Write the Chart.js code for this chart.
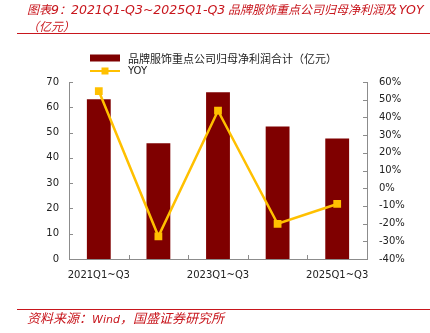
<!DOCTYPE html>
<html lang="zh">
<head>
<meta charset="UTF-8">
<title>品牌服饰重点公司归母净利润及YOY</title>
<script src="https://cdn.jsdelivr.net/npm/chart.js"></script>
<style>
  body {
    margin: 0;
    width: 430px;
    height: 333px;
    position: relative;
    overflow: hidden;
    background: #fff;
    font-family: "Noto Sans CJK SC", "DejaVu Sans", sans-serif;
  }
  #profitChart {
    position: absolute;
    left: 0;
    top: 0;
  }
  .title {
    position: absolute;
    left: 27px;
    top: 1px;
    color: #c8161d;
    font-style: italic;
    font-size: 12px;
    line-height: 16px;
    white-space: nowrap;
    z-index: 2;
  }
  .lat {
    font-family: "DejaVu Sans", sans-serif;
    font-size: 12.5px;
  }
  .rule {
    position: absolute;
    left: 17px;
    right: 0;
    height: 1px;
    background: #c8161d;
    z-index: 2;
  }
  .source {
    position: absolute;
    left: 27px;
    top: 308px;
    color: #c8161d;
    font-style: italic;
    font-size: 13px;
    white-space: nowrap;
    z-index: 2;
  }
  .source .lat {
    font-size: 11px;
  }
</style>
</head>
<body>
  <div class="title">图表<span class="lat">9</span>：<span class="lat">2021Q1-Q3~2025Q1-Q3</span> 品牌服饰重点公司归母净利润及 <span class="lat">YOY</span><br>（亿元）</div>
  <div class="rule" style="top:33px"></div>
  <canvas id="profitChart" width="430" height="333"></canvas>
  <div class="rule" style="top:309px"></div>
  <div class="source">资料来源：<span class="lat">Wind</span>，国盛证券研究所</div>

<script>
  // 数据
  const categories = ['2021Q1~Q3', '2022Q1~Q3', '2023Q1~Q3', '2024Q1~Q3', '2025Q1~Q3'];
  const profitTotal = [63.2, 45.8, 65.9, 52.4, 47.7];   // 归母净利润合计（亿元）
  const yoyPct = [54.9, -27.2, 43.8, -20.1, -8.9];      // YOY（%）
  const profitLabel = '品牌服饰重点公司归母净利润合计（亿元）';
  const yoyLabel = 'YOY';

  const axisColor = '#8c8c8c';
  const tickFont = { family: 'DejaVu Sans', size: 10 };

  // 刻度线画在坐标轴内侧
  const innerTicks = {
    id: 'innerTicks',
    beforeDatasetsDraw(chart) {
      const { ctx, chartArea, scales } = chart;
      ctx.save();
      ctx.strokeStyle = axisColor;
      ctx.lineWidth = 1;
      ctx.beginPath();
      scales.y.ticks.forEach((t, i) => {
        const py = Math.round(scales.y.getPixelForTick(i)) + 0.5;
        ctx.moveTo(chartArea.left, py);
        ctx.lineTo(chartArea.left + 4, py);
      });
      scales.y1.ticks.forEach((t, i) => {
        const py = Math.round(scales.y1.getPixelForTick(i)) + 0.5;
        ctx.moveTo(chartArea.right, py);
        ctx.lineTo(chartArea.right - 4, py);
      });
      for (let i = 1; i < categories.length; i++) {
        const px = Math.round((scales.x.getPixelForValue(i - 1) + scales.x.getPixelForValue(i)) / 2) + 0.5;
        ctx.moveTo(px, chartArea.bottom);
        ctx.lineTo(px, chartArea.bottom - 4);
      }
      ctx.stroke();
      ctx.restore();
    }
  };

  // 竖排图例
  const stackedLegend = {
    id: 'stackedLegend',
    afterDraw(chart) {
      const ctx = chart.ctx;
      const x0 = 90, symW = 30;
      ctx.save();
      ctx.textBaseline = 'middle';
      chart.data.datasets.forEach((ds, i) => {
        const y = 58 + i * 13;
        if (ds.type === 'bar') {
          ctx.fillStyle = ds.backgroundColor;
          ctx.fillRect(x0, y - 3.5, symW, 7);
          ctx.font = '11px "Noto Sans CJK SC"';
        } else {
          ctx.strokeStyle = ds.borderColor;
          ctx.lineWidth = 2;
          ctx.beginPath();
          ctx.moveTo(x0, y);
          ctx.lineTo(x0 + symW, y);
          ctx.stroke();
          ctx.fillStyle = ds.pointBackgroundColor;
          ctx.fillRect(x0 + symW / 2 - 3.5, y - 3.5, 7, 7);
          ctx.font = '10px "DejaVu Sans"';
        }
        ctx.fillStyle = '#222';
        ctx.fillText(ds.label, x0 + symW + 8, y + 0.5);
      });
      ctx.restore();
    }
  };

  const ctx = document.getElementById('profitChart').getContext('2d');
  const chart = new Chart(ctx, {
    data: {
      labels: categories,
      datasets: [
        {
          type: 'bar',
          label: profitLabel,
          data: profitTotal,
          yAxisID: 'y',
          backgroundColor: '#7f0000',
          categoryPercentage: 1,
          barPercentage: 0.4,
          order: 1
        },
        {
          type: 'line',
          label: yoyLabel,
          data: yoyPct,
          yAxisID: 'y1',
          borderColor: '#ffc000',
          borderWidth: 2.5,
          pointStyle: 'rect',
          pointRadius: 5.5,
          pointBackgroundColor: '#ffc000',
          pointBorderColor: '#ffc000',
          pointBorderWidth: 0,
          tension: 0,
          order: 0
        }
      ]
    },
    options: {
      responsive: false,
      animation: false,
      layout: { padding: { top: 82, bottom: 0, left: 0, right: 0 } },
      plugins: {
        legend: { display: false },
        tooltip: { enabled: false }
      },
      scales: {
        x: {
          grid: { display: true, drawOnChartArea: false, drawTicks: false },
          border: { display: true, color: axisColor },
          ticks: {
            autoSkip: false,
            maxRotation: 0,
            padding: 10,
            color: '#222',
            font: tickFont,
            callback: (v, i) => (i % 2 === 0 ? categories[i] : '')
          },
          afterFit: s => { s.height = 74; }
        },
        y: {
          position: 'left',
          min: 0,
          max: 70,
          ticks: { stepSize: 10, padding: 10, color: '#222', font: tickFont },
          grid: { display: false, drawTicks: false },
          border: { display: true, color: axisColor },
          afterFit: s => { s.width = 69; }
        },
        y1: {
          position: 'right',
          min: -40,
          max: 60,
          ticks: { stepSize: 10, padding: 12, color: '#222', font: tickFont, callback: v => v + '%' },
          grid: { display: false, drawTicks: false },
          border: { display: true, color: axisColor },
          afterFit: s => { s.width = 63; }
        }
      }
    },
    plugins: [innerTicks, stackedLegend]
  });
</script>
</body>
</html>
